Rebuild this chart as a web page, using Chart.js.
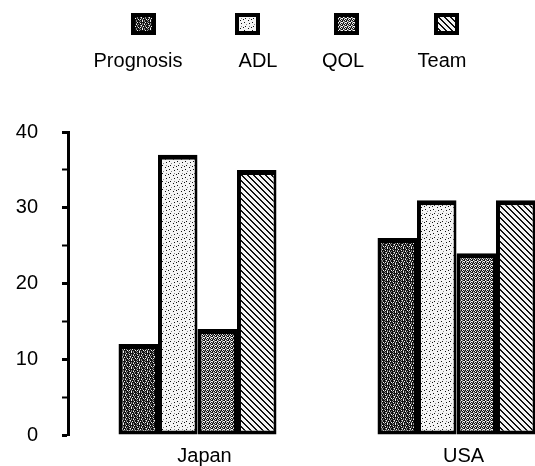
<!DOCTYPE html>
<html>
<head>
<meta charset="utf-8">
<script src="https://cdn.jsdelivr.net/npm/chart.js@4.4.1/dist/chart.umd.min.js"></script>
<style>
  html, body { margin: 0; padding: 0; background: #fff; overflow: hidden; width: 535px; height: 466px; }
  #wrap { position: relative; width: 535px; height: 466px; overflow: hidden; }
  #c { position: absolute; left: 0; top: 0; }
  .lg-box { position: absolute; }
  .lg-text { position: absolute; font-family: "Liberation Sans", Arial, sans-serif; font-size: 20px; color: #000; transform: translateX(-50%); white-space: nowrap; line-height: 24px; }
</style>
</head>
<body>
<div id="wrap">
  <canvas id="c" width="600" height="466"></canvas>
</div>
<script>
// ---- data ----
const categories = ['Japan', 'USA'];
const seriesNames = ['Prognosis', 'ADL', 'QOL', 'Team'];
const prognosis = [12, 26];
const adl = [37, 31];
const qol = [14, 24];
const team = [35, 31];
const yTicks = [0, 10, 20, 30, 40];

// ---- patterns ----
const tiles = {
  Prognosis: [
    "#g#.#g##",
    "g#####.#",
    "#.#g#g##",
    "###g#.#g",
    "#g.###g#",
    "##g#.#g#",
    "#.#g###.",
    "g##.#g##"
  ],
  ADL: [
    "........",
    ".#......",
    "......#.",
    "...g....",
    "........",
    "..#...g.",
    "#.......",
    ".....#.."
  ],
  QOL: [
    "#.g#",
    ".#g.",
    "g#.#",
    "#g#."
  ],
  Team: [
    "##....",
    ".##...",
    "..##..",
    "...##.",
    "....##",
    "#....#"
  ]
};
const pixColors = { '#': '#111111', 'g': '#8a8a8a', '.': '#f4f4f4' };
function makePattern(name) {
  const rows = tiles[name];
  const t = document.createElement('canvas');
  t.width = rows[0].length; t.height = rows.length;
  const tc = t.getContext('2d');
  rows.forEach((r, y) => {
    for (let x = 0; x < r.length; x++) {
      tc.fillStyle = pixColors[r[x]];
      tc.fillRect(x, y, 1, 1);
    }
  });
  return tc.createPattern(t, 'repeat');
}

const ctx = document.getElementById('c').getContext('2d');
const seriesData = [prognosis, adl, qol, team];
const datasets = seriesNames.map((n, i) => ({
  label: n,
  data: seriesData[i],
  backgroundColor: makePattern(n),
  borderColor: '#000',
  borderWidth: { top: 5, left: 4, right: 3, bottom: 4 },
  borderSkipped: false,
  categoryPercentage: 0.61,
  barPercentage: 1.0
}));

const chart = new Chart(ctx, {
  type: 'bar',
  data: { labels: categories, datasets },
  options: {
    responsive: false,
    animation: false,
    devicePixelRatio: 1,
    layout: { padding: { top: 132, right: 14, bottom: 0, left: 0 } },
    plugins: { legend: { display: false }, tooltip: { enabled: false } },
    scales: {
      x: {
        grid: { display: false, drawTicks: false },
        border: { display: false },
        ticks: { color: '#000', padding: 9, labelOffset: 7, font: { family: 'Liberation Sans', size: 20 } },
        afterFit: (s) => { s.height = 31; s.paddingLeft = 0; s.paddingRight = 0; }
      },
      y: {
        min: 0, max: 40,
        afterBuildTicks: (s) => {
          const out = [];
          for (let v = 0; v <= 40; v += 5) out.push({ value: v });
          s.ticks = out;
        },
        ticks: {
          color: '#000', padding: 24,
          font: { family: 'Liberation Sans', size: 20 },
          callback: (v) => yTicks.includes(v) ? String(v) : ''
        },
        grid: {
          drawOnChartArea: false, drawTicks: true, tickLength: 6,
          tickColor: '#000',
          tickWidth: (c) => (c.tick && c.tick.value % 10 === 0) ? 3 : 2
        },
        border: { display: true, color: '#000', width: 3 },
        afterFit: (s) => { s.width = 68; s.paddingTop = 0; s.paddingBottom = 0; }
      }
    }
  }
});

// ---- legend (boxes above labels) ----
const wrap = document.getElementById('wrap');
const boxX = [131, 235, 334, 434];
const textX = [138, 258, 343, 442];
chart.data.datasets.forEach((ds, i) => {
  const b = document.createElement('canvas');
  b.width = 25; b.height = 22;
  b.className = 'lg-box';
  b.style.left = boxX[i] + 'px';
  b.style.top = '13px';
  const bc = b.getContext('2d');
  bc.fillStyle = '#000';
  bc.fillRect(0, 0, 25, 22);
  bc.fillStyle = makePattern(ds.label);
  bc.fillRect(4, 4, 17, 14);
  wrap.appendChild(b);
  const t = document.createElement('div');
  t.className = 'lg-text';
  t.style.left = textX[i] + 'px';
  t.style.top = '48px';
  t.textContent = ds.label;
  wrap.appendChild(t);
});
</script>
</body>
</html>
